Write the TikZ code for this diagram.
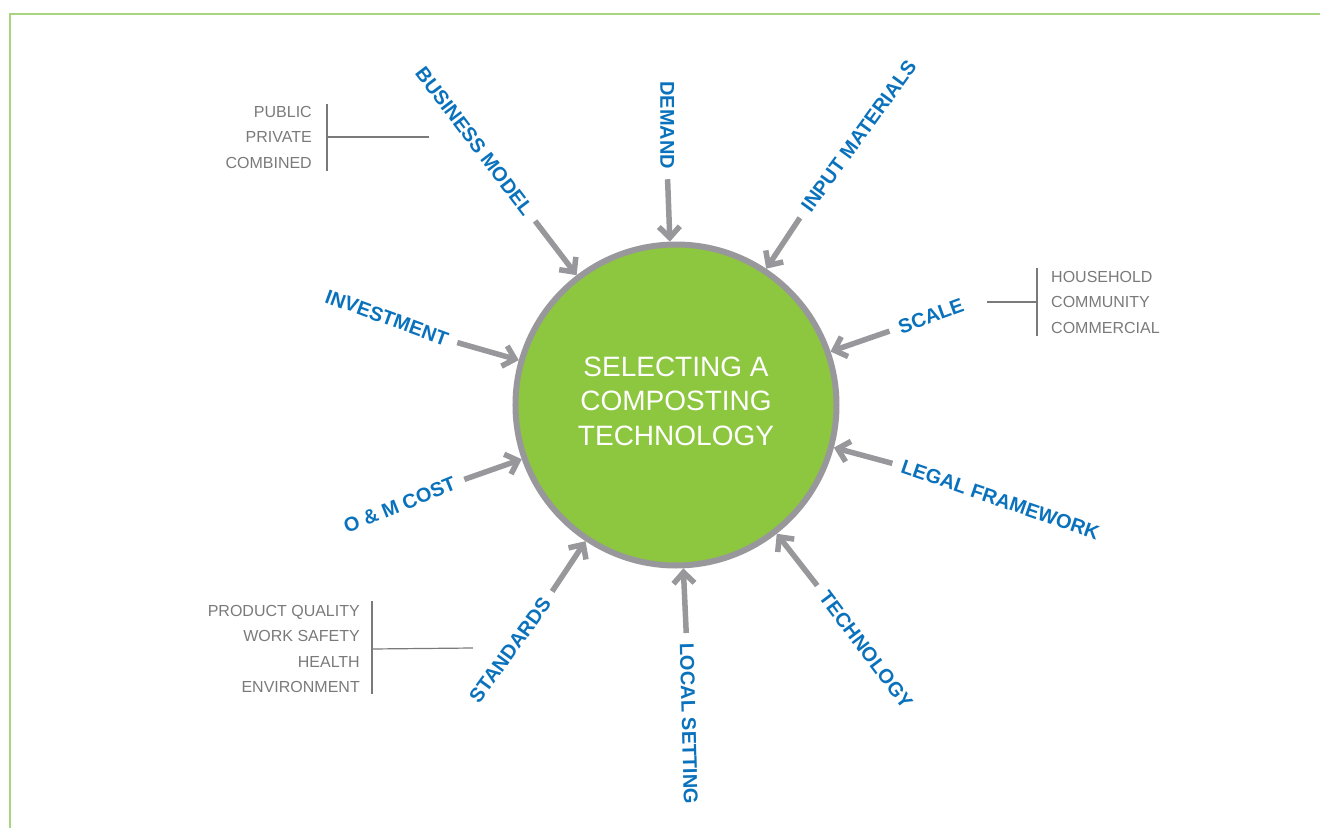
\documentclass[tikz,border=0pt]{standalone}
\usepackage{fontspec}
\setmainfont{Liberation Sans}
\usepackage{xcolor}
\usetikzlibrary{arrows.meta}
\definecolor{factorblue}{RGB}{10,114,188}
\definecolor{pullgray}{RGB}{152,152,156}
\definecolor{listgray}{RGB}{122,122,122}
\definecolor{hubgreen}{RGB}{141,198,63}
\definecolor{framegreen}{RGB}{168,212,128}
\tikzset{
  factor/.style={text=factorblue, font=\fontsize{20}{22}\selectfont\bfseries, inner sep=0pt},
  pull/.style={draw=pullgray, line width=5.5pt, -{Straight Barb[length=11pt,width=21pt]}, shorten <=10pt},
  optionlist/.style={text=listgray, font=\fontsize{16}{25.5}\selectfont, inner sep=0pt},
  listline/.style={draw=listgray, line width=1.2pt}
}

\begin{document}
\begin{tikzpicture}[x=1pt,y=1pt]

\useasboundingbox (-676,-423) rectangle (644,405);

\draw[framegreen, line width=1.6pt] (-666,-423) -- (-666,391) -- (644,391);

\node[circle, draw=pullgray, line width=6pt, fill=hubgreen, minimum size=321pt] (hub) at (0,0) {};

\node[text=white, align=center, font=\fontsize{28}{34.5}\selectfont] (title) at (0,4) {SELECTING A\\COMPOSTING\\TECHNOLOGY};

\node[factor, rotate=-52.7] (business) at (127.4:332) {BUSINESS MODEL};
\draw[pull] (business.east) -- (hub);

\node[factor, rotate=-90] (demand) at (91.8:280) {DEMAND};
\draw[pull] (demand.east) -- (hub);

\node[factor, rotate=54] (inputs) at (55.8:325) {INPUT MATERIALS};
\draw[pull] (inputs.west) -- (hub);

\node[factor, rotate=20] (scale) at (19.2:270) {SCALE};
\draw[pull] (scale.west) -- (hub);

\node[factor, rotate=-19] (legal) at (-16.3:338) {LEGAL FRAMEWORK};
\draw[pull] (legal.west) -- (hub);

\node[factor, rotate=-53] (technology) at (-52.2:310) {TECHNOLOGY};
\draw[pull] (technology.west) -- (hub);

\node[factor, rotate=-88.5] (setting) at (-87.7:319) {LOCAL SETTING};
\draw[pull] (setting.west) -- (hub);

\node[factor, rotate=54] (standards) at (235.9:296) {STANDARDS};
\draw[pull] (standards.east) -- (hub);

\node[factor, rotate=22] (omcost) at (199.9:294) {O \& M COST};
\draw[pull] (omcost.east) -- (hub);

\node[factor, rotate=-20] (investment) at (163.2:302) {INVESTMENT};
\draw[pull] (investment.east) -- (hub);

% options next to some factors
\node[optionlist, align=right, anchor=east] (ownership) at (-364,268) {PUBLIC\\PRIVATE\\COMBINED};
\coordinate (ownershipEnd) at (-247,268);
\draw[listline] (-349,301) -- (-349,234);
\draw[listline] ([xshift=15pt]ownership.east) -- (ownershipEnd);

\node[optionlist, align=left, anchor=west] (sizes) at (375,103) {HOUSEHOLD\\COMMUNITY\\COMMERCIAL};
\coordinate (sizesEnd) at (311,103);
\draw[listline] (361,137) -- (361,69);
\draw[listline] ([xshift=-14pt]sizes.west) -- (sizesEnd);

\node[optionlist, align=right, anchor=east] (norms) at (-316,-244) {PRODUCT QUALITY\\WORK SAFETY\\HEALTH\\ENVIRONMENT};
\coordinate (normsEnd) at (-203,-243);
\draw[listline] (-304,-196) -- (-304,-289);
\draw[listline] ([xshift=12pt]norms.east) -- (normsEnd);

\end{tikzpicture}
\end{document}
